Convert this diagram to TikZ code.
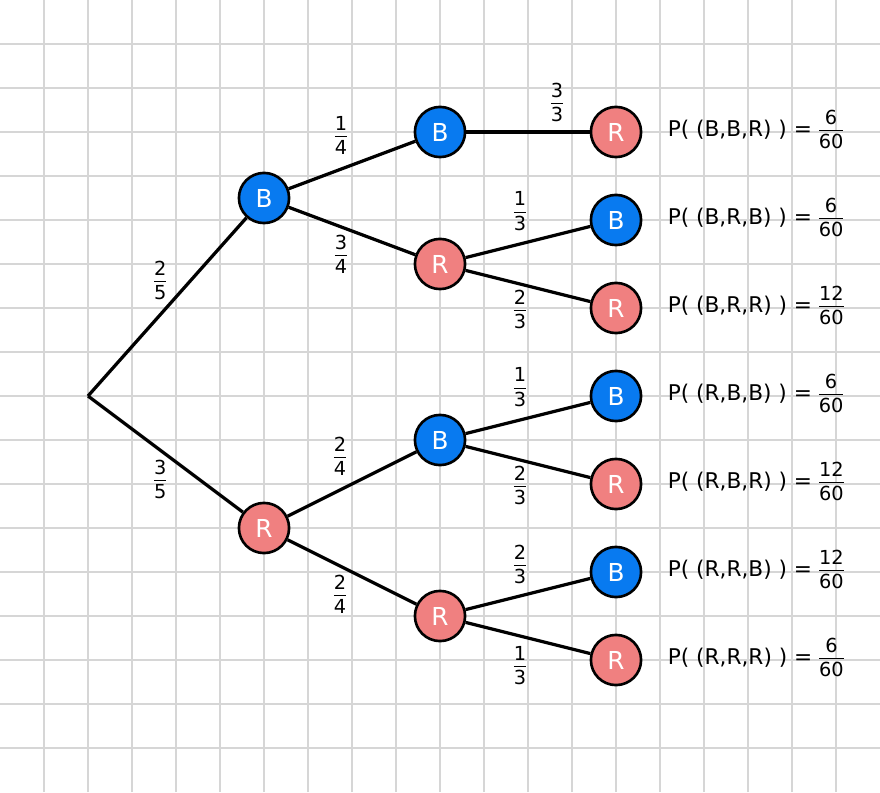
\documentclass[tikz,border=0pt]{standalone}
\usepackage{fontspec}
\setmainfont{DejaVu Sans}
\usetikzlibrary{positioning}

\definecolor{bblue}{RGB}{8,122,240}
\definecolor{rpink}{RGB}{240,128,128}
\definecolor{gridgray}{RGB}{214,214,214}

\newcommand{\fr}[2]{{\fontsize{12.5}{12.5}\selectfont\renewcommand{\arraystretch}{1}\setlength{\arrayrulewidth}{0.8pt}%
    \begin{tabular}{@{}c@{}}#1\\[0pt]\hline\rule{0pt}{11pt}#2\end{tabular}}}

\begin{document}
\begin{tikzpicture}[
    ball/.style={circle, draw=black, line width=1.7pt, minimum size=1.14cm, inner sep=0pt, text=white, font=\fontsize{16}{19}\selectfont},
    blue node/.style={ball, fill=bblue},
    red node/.style={ball, fill=rpink},
    branch/.style={draw=black, line width=2.1pt},
    prob/.style={inner sep=1pt},
    result/.style={inner sep=2pt, anchor=west, font=\fontsize{14}{17}\selectfont}]

    % quadrillage
    \useasboundingbox (0,0) rectangle (20,18);
    \fill[white] (0,0) rectangle (20,18);
    \foreach \i in {1,...,19}
        \draw[gridgray, line width=0.9pt] (\i,0) -- (\i,18);
    \foreach \j in {1,...,17}
        \draw[gridgray, line width=0.9pt] (0,\j) -- (20,\j);

    % premier tirage
    \coordinate (root) at (2,9);
    \node[blue node] (b) at (6,13.5) {B};
    \node[red node] (r) at (6,6) {R};

    % deuxieme tirage
    \node[blue node] (bb) at (10,15) {B};
    \node[red node] (br) at (10,12) {R};
    \node[blue node] (rb) at (10,8) {B};
    \node[red node] (rr) at (10,4) {R};

    % troisieme tirage
    \node[red node] (bbr) at (14,15) {R};
    \node[blue node] (brb) at (14,13) {B};
    \node[red node] (brr) at (14,11) {R};
    \node[blue node] (rbb) at (14,9) {B};
    \node[red node] (rbr) at (14,7) {R};
    \node[blue node] (rrb) at (14,5) {B};
    \node[red node] (rrr) at (14,3) {R};

    % branches
    \draw[branch] (root) -- (b);
    \draw[branch] (root) -- (r);
    \draw[branch] (b) -- (bb);
    \draw[branch] (b) -- (br);
    \draw[branch] (r) -- (rb);
    \draw[branch] (r) -- (rr);
    \draw[branch] (bb) -- (bbr);
    \draw[branch] (br) -- (brb);
    \draw[branch] (br) -- (brr);
    \draw[branch] (rb) -- (rbb);
    \draw[branch] (rb) -- (rbr);
    \draw[branch] (rr) -- (rrb);
    \draw[branch] (rr) -- (rrr);

    % probabilites des branches
    \node[prob] (p1) at (3.64,11.57) {\fr{2}{5}};
    \node[prob] (p2) at (3.64,7.05) {\fr{3}{5}};
    \node[prob] (p3) at (7.75,14.86) {\fr{1}{4}};
    \node[prob] (p4) at (7.75,12.16) {\fr{3}{4}};
    \node[prob] (p5) at (7.73,7.57) {\fr{2}{4}};
    \node[prob] (p6) at (7.73,4.43) {\fr{2}{4}};
    \node[prob] (p7) at (12.66,15.61) {\fr{3}{3}};
    \node[prob] (p8) at (11.82,13.14) {\fr{1}{3}};
    \node[prob] (p9) at (11.82,10.91) {\fr{2}{3}};
    \node[prob] (p10) at (11.82,9.14) {\fr{1}{3}};
    \node[prob] (p11) at (11.82,6.91) {\fr{2}{3}};
    \node[prob] (p12) at (11.82,5.11) {\fr{2}{3}};
    \node[prob] (p13) at (11.82,2.82) {\fr{1}{3}};

    % resultats
    \node[result, right=0.5cm of bbr] (pbbr) {P( (B,B,R) ) = \fr{6}{60}};
    \node[result, right=0.5cm of brb] (pbrb) {P( (B,R,B) ) = \fr{6}{60}};
    \node[result, right=0.5cm of brr] (pbrr) {P( (B,R,R) ) = \fr{12}{60}};
    \node[result, right=0.5cm of rbb] (prbb) {P( (R,B,B) ) = \fr{6}{60}};
    \node[result, right=0.5cm of rbr] (prbr) {P( (R,B,R) ) = \fr{12}{60}};
    \node[result, right=0.5cm of rrb] (prrb) {P( (R,R,B) ) = \fr{12}{60}};
    \node[result, right=0.5cm of rrr] (prrr) {P( (R,R,R) ) = \fr{6}{60}};
\end{tikzpicture}
\end{document}
